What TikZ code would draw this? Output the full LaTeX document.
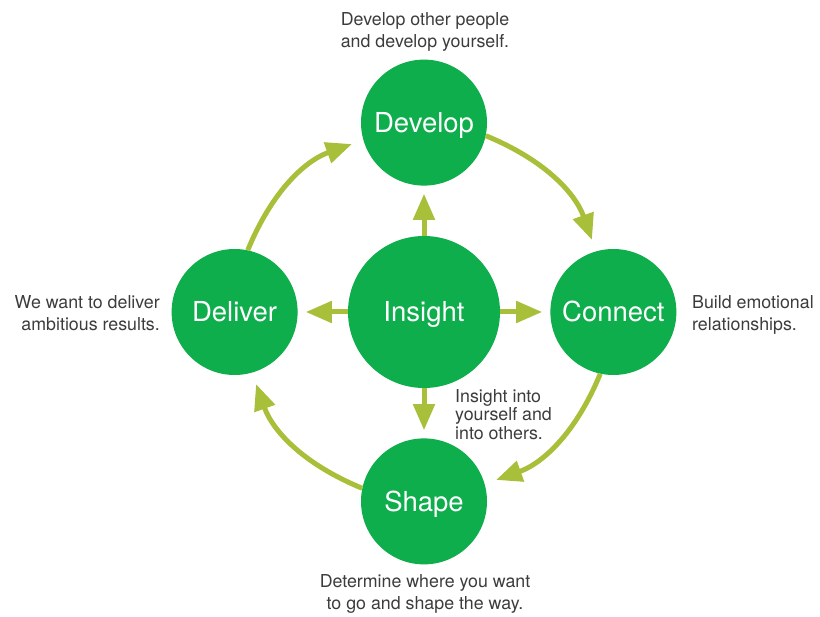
\documentclass[tikz,border=0pt]{standalone}
\usepackage{fontspec}
\setmainfont{TeX Gyre Heros}
\usepackage{tikz}
\usetikzlibrary{positioning,arrows.meta}

\definecolor{ringgreen}{HTML}{0DAE4B}
\definecolor{arrowolive}{HTML}{A8BF3A}
\definecolor{notegray}{HTML}{3C3C3C}

\tikzset{
  stage/.style={circle,fill=ringgreen,text=white,minimum size=126pt,inner sep=0pt,text depth=1pt,font=\fontsize{27.5}{30}\selectfont},
  flow/.style={draw=arrowolive,line width=5pt,-{Triangle[length=26pt,width=21pt]}},
  note/.style={text=notegray,inner sep=0pt,font=\fontsize{17.8}{22}\selectfont}
}

\begin{document}
\begin{tikzpicture}[x=1pt,y=-1pt,node distance=50pt]
      \useasboundingbox (0,0) rectangle (820,617);

      \node[stage,minimum size=152pt] (insight) at (424,312) {Insight};
      \node[stage,above=of insight] (develop) {Develop};
      \node[stage,right=of insight] (connect) {Connect};
      \node[stage,below=of insight] (shape) {Shape};
      \node[stage,left=of insight] (deliver) {Deliver};

      %notes
      \node[note,align=center,anchor=north] (developnote) at (425,12) {Develop other people\\and develop yourself.};
      \node[note,align=right,anchor=north east] (delivernote) at (160,295) {We want to deliver\\ambitious results.};
      \node[note,align=left,anchor=north west] (connectnote) at (692,295) {Build emotional\\relationships.};
      \node[note,align=center,anchor=north] (shapenote) at (425,574) {Determine where you want\\to go and shape the way.};
      \node[note,align=left,anchor=north west,font=\fontsize{17.8}{18.8}\selectfont] (insightnote) at (455,389) {Insight into\\yourself and\\into others.};

      %insight out
      \draw[flow,shorten >= 8pt] (insight) -- (develop);
      \draw[flow,shorten >= 8pt] (insight) -- (connect);
      \draw[flow,shorten >= 8pt] (insight) -- (shape);
      \draw[flow,shorten >= 8pt] (insight) -- (deliver);

      %cycle
      \draw[flow,shorten >= 12pt] (deliver.78) to[bend left=24] (develop.196);
      \draw[flow,shorten >= 12pt] (develop.-12) to[bend left=24] (connect.106);
      \draw[flow,shorten >= 12pt] (connect.-102) to[bend left=24] (shape.16);
      \draw[flow,shorten >= 12pt] (shape.168) to[bend left=24] (deliver.286);
    \end{tikzpicture}
\end{document}
